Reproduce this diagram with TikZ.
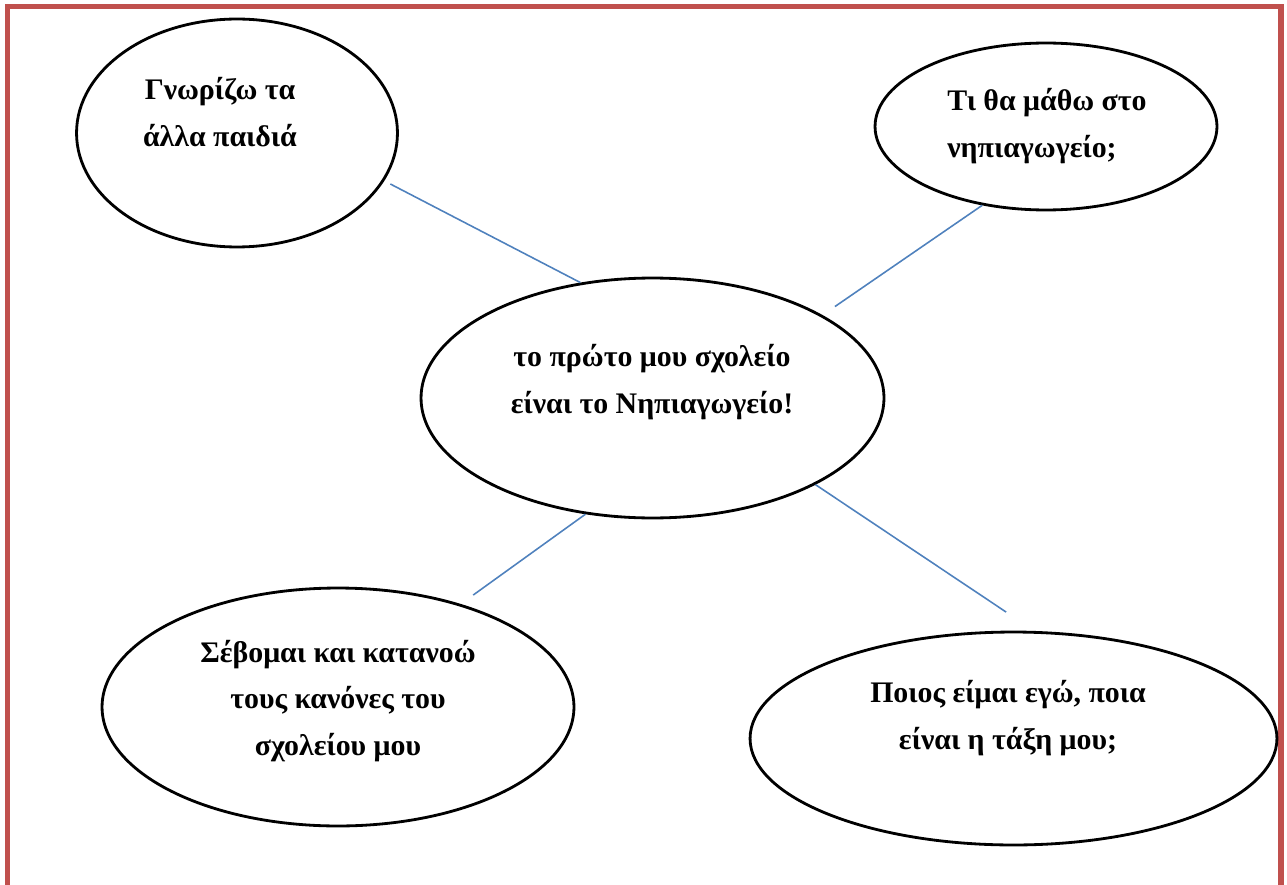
\documentclass[tikz,border=0pt]{standalone}
\usepackage{fontspec}
\setmainfont{Liberation Serif}
\usetikzlibrary{shapes.geometric}
\definecolor{framered}{RGB}{192,80,77}
\definecolor{linkblue}{RGB}{79,129,189}

\begin{document}
\begin{tikzpicture}[x=0.02cm,y=-0.02cm,
                    font=\bfseries\fontsize{17}{26.6}\selectfont]
  \tikzstyle{bubble}=[ellipse,draw,line width=1.6pt,inner sep=0pt]
  \tikzstyle{words}=[align=center,inner sep=0pt]
  \tikzstyle{link}=[draw=linkblue,line width=0.9pt]

  \useasboundingbox (0,0) rectangle (1287,885);
  \clip (0,0) rectangle (1287,885);
  \draw[framered,line width=3pt] (7.5,6.5) rectangle (1281,900);

  \node[bubble,minimum width=6.42cm,minimum height=4.56cm]  (know)  at (237,133)    {};
  \node[bubble,minimum width=6.84cm,minimum height=3.34cm]  (learn) at (1046,126.5) {};
  \node[bubble,minimum width=9.26cm,minimum height=4.8cm]   (main)  at (652.5,398)  {};
  \node[bubble,minimum width=9.44cm,minimum height=4.76cm]  (rules) at (338,707)    {};
  \node[bubble,minimum width=10.54cm,minimum height=4.26cm] (who)   at (1013.5,738.5) {};

  \node[words] (know-t)  at (220,112)  {Γνωρίζω τα\\άλλα παιδιά};
  \node[words,align=left,anchor=west] (learn-t) at (947,126) {Τι θα μάθω στο\\νηπιαγωγείο;};
  \node[words] (main-t)  at (652,382)  {το πρώτο μου σχολείο\\είναι το Νηπιαγωγείο!};
  \node[words] (rules-t) at (338,701)  {Σέβομαι και κατανοώ\\τους κανόνες του\\σχολείου μου};
  \node[words] (who-t)   at (1008,718) {Ποιος είμαι εγώ, ποια\\είναι η τάξη μου;};

  \path (know.-18.6)  edge[link,shorten <=0.136cm] (main.122.9)
        (learn.-129.2) edge[link,shorten >=0.3cm]  (main.26.1)
        (main.-120.3) edge[link,shorten >=0.306cm] (rules.40.7)
        (main.-28.3)  edge[link,shorten >=0.68cm]  (who.79.8);
\end{tikzpicture}
\end{document}
